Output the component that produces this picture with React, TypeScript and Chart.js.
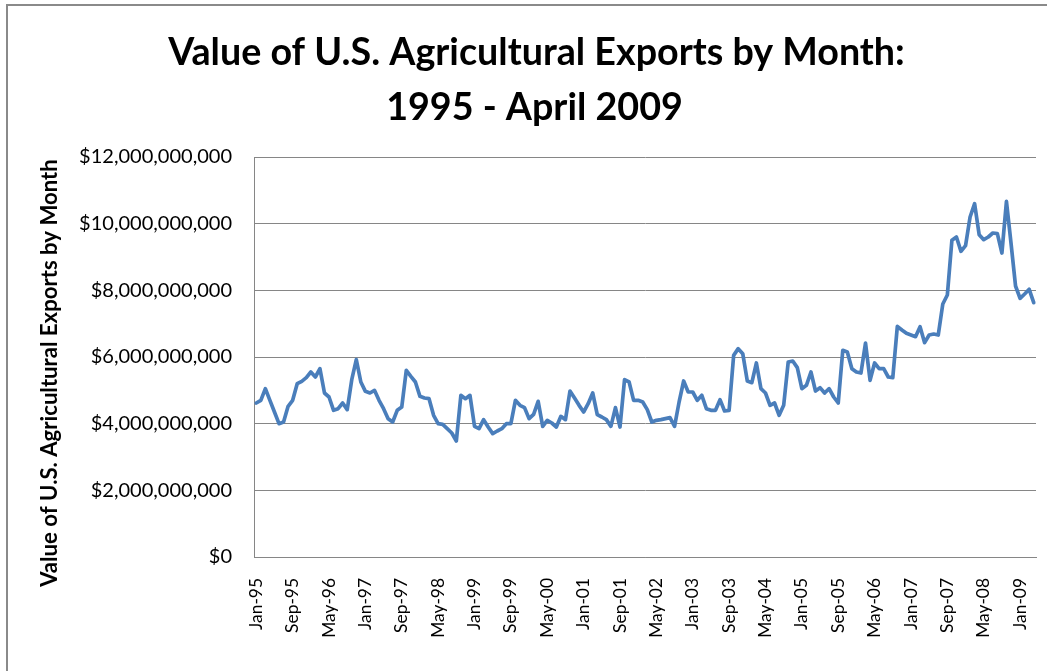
import React, { useEffect, useRef } from "react";
import { Chart, registerables } from "chart.js";

Chart.register(...registerables);

const TITLE_LINES = ["Value of U.S. Agricultural Exports by Month:", "1995 - April 2009"];
const Y_AXIS_TITLE = "Value of U.S. Agricultural Exports by Month";

const CATEGORIES = [
  "Jan-95", "Feb-95", "Mar-95", "Apr-95", "May-95", "Jun-95", "Jul-95", "Aug-95", "Sep-95", "Oct-95", "Nov-95", "Dec-95",
  "Jan-96", "Feb-96", "Mar-96", "Apr-96", "May-96", "Jun-96", "Jul-96", "Aug-96", "Sep-96", "Oct-96", "Nov-96", "Dec-96",
  "Jan-97", "Feb-97", "Mar-97", "Apr-97", "May-97", "Jun-97", "Jul-97", "Aug-97", "Sep-97", "Oct-97", "Nov-97", "Dec-97",
  "Jan-98", "Feb-98", "Mar-98", "Apr-98", "May-98", "Jun-98", "Jul-98", "Aug-98", "Sep-98", "Oct-98", "Nov-98", "Dec-98",
  "Jan-99", "Feb-99", "Mar-99", "Apr-99", "May-99", "Jun-99", "Jul-99", "Aug-99", "Sep-99", "Oct-99", "Nov-99", "Dec-99",
  "Jan-00", "Feb-00", "Mar-00", "Apr-00", "May-00", "Jun-00", "Jul-00", "Aug-00", "Sep-00", "Oct-00", "Nov-00", "Dec-00",
  "Jan-01", "Feb-01", "Mar-01", "Apr-01", "May-01", "Jun-01", "Jul-01", "Aug-01", "Sep-01", "Oct-01", "Nov-01", "Dec-01",
  "Jan-02", "Feb-02", "Mar-02", "Apr-02", "May-02", "Jun-02", "Jul-02", "Aug-02", "Sep-02", "Oct-02", "Nov-02", "Dec-02",
  "Jan-03", "Feb-03", "Mar-03", "Apr-03", "May-03", "Jun-03", "Jul-03", "Aug-03", "Sep-03", "Oct-03", "Nov-03", "Dec-03",
  "Jan-04", "Feb-04", "Mar-04", "Apr-04", "May-04", "Jun-04", "Jul-04", "Aug-04", "Sep-04", "Oct-04", "Nov-04", "Dec-04",
  "Jan-05", "Feb-05", "Mar-05", "Apr-05", "May-05", "Jun-05", "Jul-05", "Aug-05", "Sep-05", "Oct-05", "Nov-05", "Dec-05",
  "Jan-06", "Feb-06", "Mar-06", "Apr-06", "May-06", "Jun-06", "Jul-06", "Aug-06", "Sep-06", "Oct-06", "Nov-06", "Dec-06",
  "Jan-07", "Feb-07", "Mar-07", "Apr-07", "May-07", "Jun-07", "Jul-07", "Aug-07", "Sep-07", "Oct-07", "Nov-07", "Dec-07",
  "Jan-08", "Feb-08", "Mar-08", "Apr-08", "May-08", "Jun-08", "Jul-08", "Aug-08", "Sep-08", "Oct-08", "Nov-08", "Dec-08",
  "Jan-09", "Feb-09", "Mar-09", "Apr-09",
];

// Monthly export value, billions of US dollars
const EXPORTS_BILLIONS = [
  4.62, 4.70, 5.05, 4.70, 4.35, 4.00, 4.05, 4.52, 4.70, 5.20, 5.27, 5.38,
  5.55, 5.40, 5.65, 4.92, 4.80, 4.40, 4.45, 4.62, 4.42, 5.32, 5.92, 5.25,
  4.97, 4.92, 5.00, 4.70, 4.45, 4.15, 4.05, 4.40, 4.50, 5.60, 5.42, 5.25,
  4.82, 4.77, 4.75, 4.25, 4.00, 3.98, 3.85, 3.72, 3.48, 4.85, 4.75, 4.85,
  3.92, 3.85, 4.12, 3.90, 3.70, 3.78, 3.85, 4.00, 4.00, 4.70, 4.55, 4.48,
  4.15, 4.28, 4.67, 3.92, 4.10, 4.02, 3.90, 4.22, 4.12, 4.98, 4.77, 4.55,
  4.35, 4.60, 4.92, 4.27, 4.20, 4.12, 3.92, 4.48, 3.90, 5.32, 5.25, 4.70,
  4.70, 4.65, 4.42, 4.05, 4.10, 4.12, 4.15, 4.18, 3.92, 4.65, 5.28, 4.95,
  4.95, 4.70, 4.85, 4.45, 4.40, 4.40, 4.72, 4.38, 4.40, 6.05, 6.25, 6.10,
  5.28, 5.23, 5.82, 5.05, 4.92, 4.55, 4.62, 4.25, 4.55, 5.85, 5.88, 5.68,
  5.05, 5.15, 5.55, 4.98, 5.08, 4.92, 5.05, 4.80, 4.62, 6.20, 6.15, 5.65,
  5.55, 5.52, 6.42, 5.30, 5.82, 5.65, 5.65, 5.40, 5.38, 6.92, 6.81, 6.71,
  6.66, 6.61, 6.91, 6.43, 6.66, 6.69, 6.66, 7.59, 7.86, 9.50, 9.60, 9.17,
  9.34, 10.20, 10.60, 9.67, 9.52, 9.60, 9.72, 9.70, 9.12, 10.67, 9.42, 8.13,
  7.76, 7.89, 8.03, 7.63,
];

const X_TICK_LABELS = [
  "Jan-95", "Sep-95", "May-96", "Jan-97", "Sep-97", "May-98", "Jan-99", "Sep-99",
  "May-00", "Jan-01", "Sep-01", "May-02", "Jan-03", "Sep-03", "May-04", "Jan-05",
  "Sep-05", "May-06", "Jan-07", "Sep-07", "May-08", "Jan-09",
];

const Y_MIN = 0;
const Y_MAX = 12000000000;
const Y_STEP = 2000000000;

const FONT = "Lato, 'Open Sans', sans-serif";
const GRID = "#868686";
const LINE = "#4A7EBB";

function fitSize(ctx: CanvasRenderingContext2D, text: string, weight: string, target: number) {
  ctx.font = `${weight} 100px ${FONT}`;
  const w = ctx.measureText(text).width;
  return (100 * target) / w;
}

const headings = {
  id: "headings",
  afterDraw(chart: any) {
    const ctx: CanvasRenderingContext2D = chart.ctx;
    ctx.save();
    ctx.fillStyle = "#000";
    ctx.textBaseline = "alphabetic";
    ctx.textAlign = "center";
    const ts = fitSize(ctx, TITLE_LINES[0], "bold", 737);
    ctx.font = `bold ${ts}px ${FONT}`;
    ctx.fillText(TITLE_LINES[0], 536.5, 65);
    ctx.fillText(TITLE_LINES[1], 534.5, 120);
    const ys = fitSize(ctx, Y_AXIS_TITLE, "bold", 428);
    ctx.font = `bold ${ys}px ${FONT}`;
    ctx.translate(56.5, 373);
    ctx.rotate(-Math.PI / 2);
    ctx.fillText(Y_AXIS_TITLE, 0, 0);
    ctx.restore();
  },
};

export default function App() {
  const ref = useRef<HTMLCanvasElement>(null);

  useEffect(() => {
    const canvas = ref.current;
    if (!canvas) return;
    const mctx = canvas.getContext("2d") as CanvasRenderingContext2D;
    const ySize = fitSize(mctx, "$12,000,000,000", "normal", 153);
    const xSize = fitSize(mctx, "Jan-95", "normal", 52);

    const chart = new Chart(canvas, {
      type: "line",
      data: {
        labels: CATEGORIES,
        datasets: [
          {
            label: "Value of U.S. Agricultural Exports",
            data: EXPORTS_BILLIONS.map((v) => v * 1e9),
            borderColor: LINE,
            backgroundColor: LINE,
            borderWidth: 3.7,
            pointRadius: 0,
            tension: 0,
            fill: false,
            borderJoinStyle: "round",
            borderCapStyle: "round",
          },
        ],
      },
      options: {
        animation: false,
        responsive: false,
        devicePixelRatio: 1,
        layout: { padding: { top: 157, right: 11, bottom: 0, left: 0 } },
        plugins: {
          legend: { display: false },
          title: { display: false },
          tooltip: { enabled: false },
        },
        scales: {
          x: {
            type: "category",
            offset: true,
            grid: { display: false, drawTicks: false },
            border: { display: true, color: GRID, width: 1 },
            ticks: {
              autoSkip: false,
              minRotation: 90,
              maxRotation: 90,
              padding: 21,
              color: "#000",
              font: { family: FONT, size: xSize },
              callback: (_v: any, i: number) =>
                X_TICK_LABELS.includes(CATEGORIES[i]) ? CATEGORIES[i] : "",
            },
            afterFit: (scale: any) => {
              scale.height = 114;
              scale.paddingRight = 0;
              scale.paddingLeft = 0;
            },
          },
          y: {
            position: "left",
            min: Y_MIN,
            max: Y_MAX,
            grid: { color: GRID, lineWidth: 1, drawTicks: false },
            border: { display: true, color: GRID, width: 1 },
            ticks: {
              stepSize: Y_STEP,
              padding: 22,
              color: "#000",
              font: { family: FONT, size: ySize },
              callback: (v: any) => "$" + Number(v).toLocaleString("en-US"),
            },
            afterFit: (scale: any) => {
              scale.width = 254;
            },
          },
        },
      },
      plugins: [headings],
    });
    return () => chart.destroy();
  }, []);

  return (
    <div style={{ position: "fixed", left: 0, top: 0, width: 1047, height: 671, background: "#fff", overflow: "hidden" }}>
      <div
        style={{
          position: "absolute",
          left: 6,
          top: 4,
          width: 1200,
          height: 800,
          border: "2px solid #8a8a8a",
          boxSizing: "border-box",
        }}
      />
      <canvas ref={ref} width={1047} height={671} style={{ position: "absolute", left: 0, top: 0, width: 1047, height: 671 }} />
    </div>
  );
}
